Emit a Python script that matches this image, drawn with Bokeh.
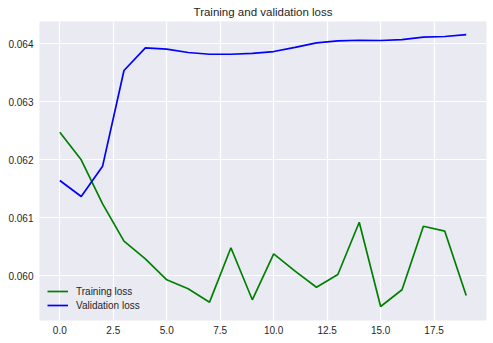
from bokeh.plotting import figure
from bokeh.models import FixedTicker, PrintfTickFormatter, Range1d, Legend, LegendItem
from bokeh.embed import file_html
from bokeh.resources import INLINE

epochs = list(range(20))
training_loss = [0.062476, 0.062000, 0.061241, 0.060597, 0.060293, 0.059931, 0.059776,
                 0.059545, 0.060483, 0.059586, 0.060379, 0.060080, 0.059803, 0.060022,
                 0.060924, 0.059471, 0.059759, 0.060855, 0.060769, 0.059660]
validation_loss = [0.061643, 0.061367, 0.061890, 0.063540, 0.063931, 0.063910, 0.063850,
                   0.063820, 0.063820, 0.063835, 0.063867, 0.063940, 0.064017, 0.064052,
                   0.064062, 0.064057, 0.064074, 0.064114, 0.064126, 0.064160]
x_ticks = [0.0, 2.5, 5.0, 7.5, 10.0, 12.5, 15.0, 17.5]
y_ticks = [0.060, 0.061, 0.062, 0.063, 0.064]

FONT = "Liberation Sans"
TXT = "#262626"

p = figure(width=493, height=343, output_backend="svg", toolbar_location=None,
           title="Training and validation loss",
           x_range=Range1d(-0.95, 19.95), y_range=Range1d(0.059229, 0.064385),
           min_border_left=39, min_border_right=7, min_border_top=0, min_border_bottom=23)

p.background_fill_color = "#EAEAF2"
p.border_fill_color = "white"
p.outline_line_color = None

p.title.align = "center"
p.title.text_font = FONT
p.title.text_font_size = "11.5px"
p.title.text_font_style = "normal"
p.title.text_color = TXT
p.title.standoff = 7

p.xaxis.ticker = FixedTicker(ticks=x_ticks)
p.xaxis.formatter = PrintfTickFormatter(format="%.1f")
p.yaxis.ticker = FixedTicker(ticks=y_ticks)
p.yaxis.formatter = PrintfTickFormatter(format="%.3f")
for ax in (p.xaxis[0], p.yaxis[0]):
    ax.axis_line_color = None
    ax.major_tick_line_color = None
    ax.minor_tick_line_color = None
    ax.major_tick_out = 0
    ax.major_tick_in = 0
    ax.minor_tick_out = 0
    ax.minor_tick_in = 0
    ax.major_label_text_font = FONT
    ax.major_label_text_font_size = "10px"
    ax.major_label_text_color = TXT
p.xaxis.major_label_standoff = 5
p.yaxis.major_label_standoff = 6

p.xgrid.grid_line_color = "white"
p.ygrid.grid_line_color = "white"
p.xgrid.grid_line_width = 1.2
p.ygrid.grid_line_width = 1.2

r1 = p.line(epochs, training_loss, line_color="green", line_width=1.7)
r2 = p.line(epochs, validation_loss, line_color="blue", line_width=1.7)

legend = Legend(items=[LegendItem(label="Training loss", renderers=[r1]),
                       LegendItem(label="Validation loss", renderers=[r2])],
                location="bottom_left")
legend.background_fill_alpha = 0
legend.border_line_alpha = 0
legend.margin = 0
legend.padding = 8
legend.spacing = 0
legend.glyph_width = 21
legend.glyph_height = 14
legend.label_height = 14
legend.label_standoff = 8
legend.label_text_font = FONT
legend.label_text_font_size = "10px"
legend.label_text_color = TXT
p.add_layout(legend, "center")

open("out.html", "w").write(file_html(p, INLINE))
